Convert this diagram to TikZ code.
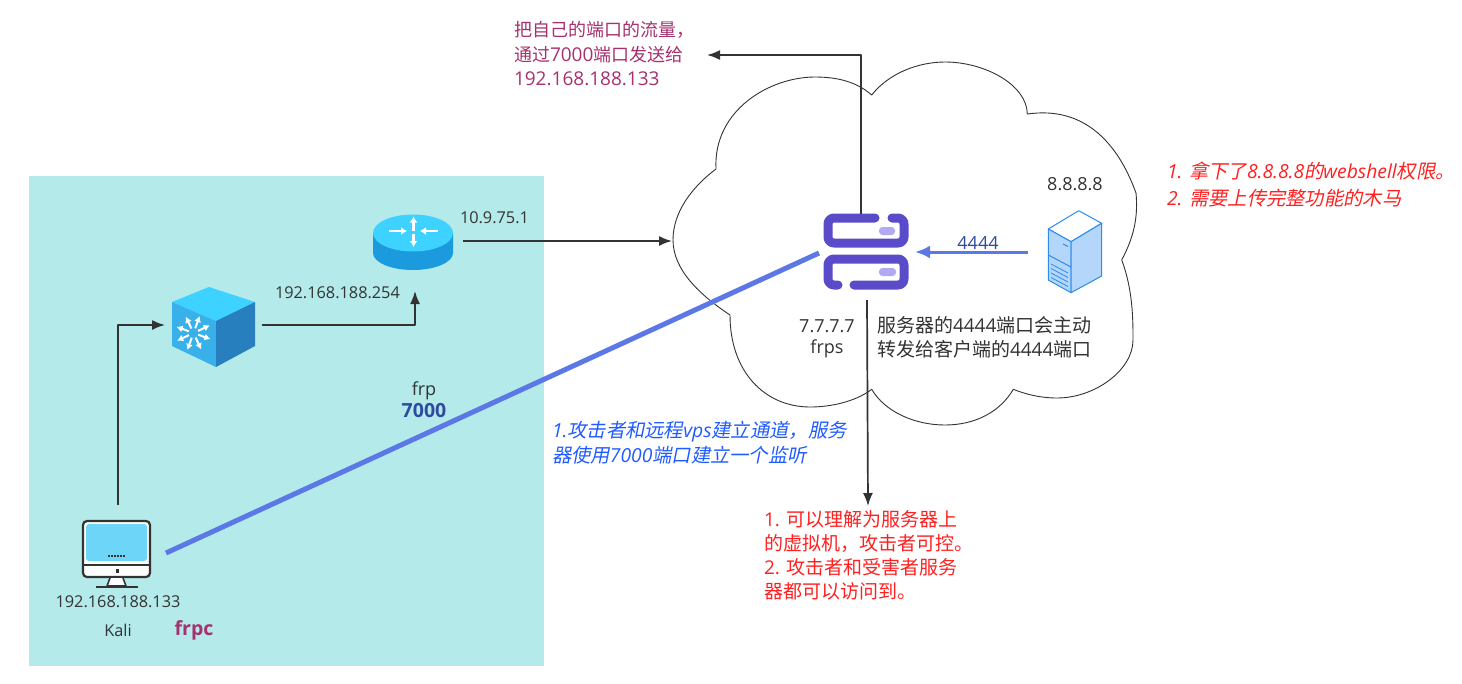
\documentclass[tikz,border=0pt]{standalone}
\usepackage{fontspec}
\setmainfont{Open Sans}
\newfontfamily\cjk{Noto Sans CJK SC}
\newfontfamily\cjki[FakeSlant=0.2]{Noto Sans CJK SC}
\newcommand{\C}[1]{{\cjk #1}}
\newcommand{\I}[1]{{\cjki #1}}
\usetikzlibrary{arrows.meta,calc}
\definecolor{teal}{HTML}{B5EAEA}
\definecolor{lineblue}{HTML}{5B78E6}
\definecolor{deepblue}{HTML}{2F4BA0}
\definecolor{ink}{HTML}{333333}
\definecolor{plum}{HTML}{A5316E}
\definecolor{itblue}{HTML}{1F5BFF}
\definecolor{alert}{HTML}{FF2020}
\definecolor{sky}{HTML}{3DD2FF}
\definecolor{midblue}{HTML}{1B9ADE}
\definecolor{cubeface}{HTML}{38B1EB}
\definecolor{cubeside}{HTML}{2780BD}
\definecolor{violet}{HTML}{5A4CC8}
\definecolor{lilac}{HTML}{B3A9F2}
\definecolor{srv}{HTML}{2B8CF0}
\definecolor{srvfill}{HTML}{B3D6FA}
\definecolor{screen}{HTML}{6DD5F7}
\tikzset{
  iconbox/.style={inner sep=0pt,outer sep=0pt},
  lab/.style={inner sep=0pt,outer sep=0pt,text=ink,font=\fontsize{16.3}{20}\selectfont},
  mid/.style={inner sep=0pt,outer sep=0pt,text=ink,font=\fontsize{18}{20}\selectfont},
  big/.style={inner sep=0pt,outer sep=0pt,align=left,font=\fontsize{19}{24.5}\selectfont},
  flow/.style={draw=ink,line width=1.7pt,-{Latex[length=13pt,width=10pt]}},
  wire/.style={draw=lineblue,line width=5pt},
  whitearrow/.style={draw=white,line width=2.2pt,-{Latex[length=6pt,width=8pt]}},
}
\begin{document}
\begin{tikzpicture}[x=1pt,y=-1pt,line join=round]
\useasboundingbox (0,0) rectangle (1462,683);
\fill[teal] (29,176) rectangle (544,666);
% cloud
\draw[draw=ink,line width=0.9pt,fill=white]
 (716,169) .. controls (713,110) and (770,77) .. (815,77)
 .. controls (840,77) and (858,83) .. (871.7,95)
 .. controls (890,72) and (920,62) .. (945,62)
 .. controls (985,62) and (1027,85) .. (1027.3,114)
 .. controls (1050,111) and (1105,108) .. (1136,193)
 .. controls (1138,215) and (1135,235) .. (1121.7,260)
 .. controls (1133,290) and (1133,320) .. (1133,340)
 .. controls (1133,370) and (1095,398) .. (1057,398)
 .. controls (1040,398) and (1025,394) .. (1013.3,389.3)
 .. controls (1000,412) and (975,425) .. (945,425)
 .. controls (915,425) and (885,412) .. (871.7,389.3)
 .. controls (855,402) and (830,407) .. (810,407)
 .. controls (765,407) and (730,372) .. (730,315)
 .. controls (700,295) and (673,270) .. (673,240)
 .. controls (673,212) and (692,187) .. (716,169) -- cycle;
% anchors on the cloud and free ends
\coordinate (cloudW) at (672,241);
\coordinate (upstart) at (861,214);
\coordinate (downstart) at (867,300);
\coordinate (downend) at (868,506);
\coordinate (wireA) at (166,553);
\coordinate (wireB) at (819,253);
\coordinate (arrowA) at (1028,252);
\coordinate (arrowB) at (915,252);
\coordinate (leftend) at (707,55);
\coordinate (sw1) at (262,325);
\coordinate (sw2) at (415,291);
\coordinate (rt1) at (463,241);
\coordinate (ka1) at (118,505);
\coordinate (sw0) at (165,325);
% router icon
\node[iconbox,minimum width=80pt,minimum height=55pt] (router) at (413,243) {};
\fill[midblue] (373,233) -- (373,253) arc[start angle=180,end angle=0,x radius=40,y radius=17] -- (453,233) -- cycle;
\fill[sky] (413,233) ellipse[x radius=40,y radius=18.5];
\draw[whitearrow] (389,231) -- (407,231);
\draw[whitearrow] (438,231) -- (420,231);
\draw[whitearrow] (413.5,231) -- (413.5,216.5);
\draw[whitearrow] (413.5,234) -- (413.5,247);
% switch icon
\node[iconbox,minimum width=86pt,minimum height=81pt] (switch) at (214,327) {};
\fill[sky] (172,302) -- (209,287) -- (255,302) -- (216,321) -- cycle;
\fill[cubeface] (172,302) -- (216,321) -- (216,367) -- (172,346) -- cycle;
\fill[cubeside] (216,321) -- (255,302) -- (255,346) -- (216,367) -- cycle;
\foreach \a in {20,65,110,155,200,245,290,335}{
  \draw[draw=white,line width=2pt,-{Latex[length=6pt,width=7pt]}]
    ($(193.5,333)+(\a:5)$) -- ($(193.5,333)+(\a:18)$);
}
% kali icon
\node[iconbox,minimum width=70pt,minimum height=70pt] (kali) at (117,555) {};
\draw[draw=ink,line width=2.2pt,fill=white,rounded corners=4pt] (83,521) rectangle (150,577);
\fill[screen,rounded corners=3pt] (86,524) rectangle (147,561);
\draw[draw=ink,line width=2pt] (83,564.5) -- (150,564.5);
\fill[ink] (115.5,569) rectangle (118.5,573);
\foreach \x in {109,112,115,118,121,124}{\fill[ink] (\x-0.7,555) rectangle (\x+0.7,557);}
\draw[draw=ink,line width=1.6pt,fill=white] (110,578) -- (107,586) -- (126,586) -- (123,578);
\draw[draw=ink,line width=2pt] (96,587) -- (138,587);
% frps icon
\node[iconbox,minimum width=86pt,minimum height=77pt] (frps) at (866,251) {};
\begin{scope}[line cap=round]
\draw[draw=violet,line width=9pt,rounded corners=6pt] (875,218) -- (828,218) -- (828,243) -- (904,243) -- (904,218) -- (892,218);
\draw[draw=violet,line width=9pt,rounded corners=6pt] (838,285) -- (828,285) -- (828,259) -- (904,259) -- (904,285) -- (854,285);
\end{scope}
\fill[lilac,rounded corners=3.5pt] (879,227) rectangle (895,235);
\fill[lilac,rounded corners=3.5pt] (879,268) rectangle (896,276);
% victim server icon
\node[iconbox,minimum width=54pt,minimum height=82pt] (victim) at (1075,252) {};
\filldraw[draw=srv,line width=1pt,fill=white] (1078.7,210.7) -- (1101.7,223.3) -- (1071,241.7) -- (1048.3,229) -- cycle;
\filldraw[draw=srv,line width=1pt,fill=srvfill] (1048.3,229) -- (1071,241.7) -- (1071,292.7) -- (1048.3,280) -- cycle;
\filldraw[draw=srv,line width=1pt,fill=srvfill] (1071,241.7) -- (1101.7,223.3) -- (1101.7,276) -- (1071,292.7) -- cycle;
\draw[draw=srv,line width=1pt] (1048.3,255) -- (1071,267);
\draw[draw=srv,line width=1pt] (1063,244) -- (1068,246.5);
\foreach \d in {0,4.5,9,13.5}{\draw[draw=srv,line width=0.8pt] (1051,264+\d) -- (1068,273+\d);}
% texts
\node[big,text=plum,anchor=north west] (note1) at (514,21.5) {\fontsize{18}{25}\selectfont\C{把自己的端口的流量，}\\\fontsize{18}{25}\selectfont\C{通过}{\fontsize{19}{25}\selectfont 7000}\C{端口发送给}\\\fontsize{19}{25}\selectfont 192.168.188.133};
\node[lab,anchor=west] (l109) at (460,218) {10.9.75.1};
\node[lab,anchor=west] (l254) at (275,293) {192.168.188.254};
\node[mid] (lfrp) at (424,391) {frp};
\node[mid,text=deepblue,font=\fontsize{19.5}{20}\selectfont\bfseries] (l7000) at (424,411) {7000};
\node[lab] (l133) at (118,602) {192.168.188.133};
\node[lab] (lkali) at (118,630) {Kali};
\node[mid,text=plum,font=\fontsize{19.5}{20}\selectfont\bfseries] (lfrpc) at (194,630) {frpc};
\node[big,text=itblue,anchor=north west,font=\fontsize{19.3}{25}\selectfont\itshape] (note2) at (552,421) {1.\I{攻击者和远程}vps\I{建立通道，服务}\\\I{器使用}7000\I{端口建立一个监听}};
\node[mid] (l777) at (827,326) {7.7.7.7};
\node[mid] (lfrps) at (827,349) {frps};
\node[big,text=ink,anchor=north west] (note3) at (877,316) {\C{服务器的}4444\C{端口会主动}\\\C{转发给客户端的}4444\C{端口}};
\node[mid] (l888) at (1075,184) {8.8.8.8};
\node[mid,text=deepblue] (l4444) at (978,243) {4444};
\node[big,text=alert,anchor=north west,font=\fontsize{19.3}{27}\selectfont\itshape] (note4) at (1167,162) {1. \I{拿下了}8.8.8.8\I{的}webshell\I{权限。}\\2. \I{需要上传完整功能的木马}};
\node[big,text=alert,anchor=north west,font=\fontsize{19}{23.7}\selectfont] (note5) at (764,511) {1. \C{可以理解为服务器上}\\\C{的虚拟机，攻击者可控。}\\2. \C{攻击者和受害者服务}\\\C{器都可以访问到。}};
% connectors
\draw[flow] (ka1) |- (sw0);
\draw[flow] (sw1) -| (sw2);
\draw[flow] (rt1) -- (cloudW);
\draw[flow] (upstart) |- (leftend);
\draw[flow] (downstart) -- (downend);
\draw[wire] (wireA) -- (wireB);
\draw[draw=lineblue,line width=3pt,-{Latex[length=15pt,width=13pt]}] (arrowA) -- (arrowB);
\end{tikzpicture}
\end{document}
